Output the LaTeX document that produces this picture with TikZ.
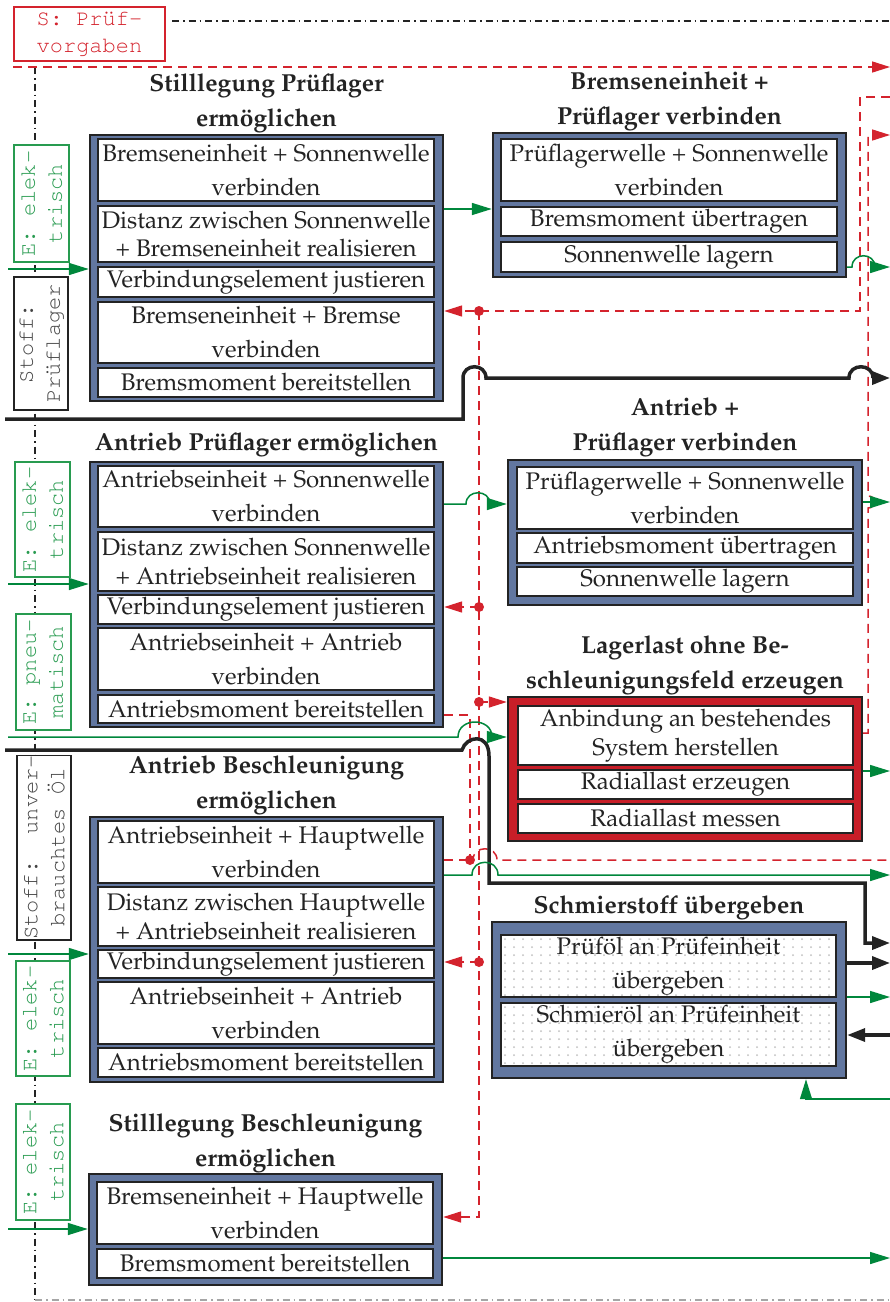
\documentclass[tikz,border=0pt]{standalone}
\usepackage[T1]{fontenc}
\IfFileExists{tgpagella.sty}{\usepackage{tgpagella}}{\usepackage{mathpazo}}
\IfFileExists{courier.sty}{\usepackage{courier}}{}
\usetikzlibrary{arrows.meta,calc}

\definecolor{panel}{RGB}{98,119,160}
\definecolor{loadred}{RGB}{200,30,40}
\definecolor{edge}{RGB}{35,35,35}
\definecolor{flowgreen}{RGB}{0,135,60}
\definecolor{labelgreen}{RGB}{40,155,80}
\definecolor{sigred}{RGB}{212,35,45}

\newcommand\cellsize{\fontsize{24}{34}\selectfont}
\newcommand\cellsizetight{\fontsize{24}{28.5}\selectfont}
\newcommand\headsize{\fontsize{24.6}{35}\selectfont\bfseries}
\newcommand\tagsize{\fontsize{22}{27}\selectfont\ttfamily}

\tikzset{
  grp/.style={draw=edge, fill=panel, line width=2.4pt, inner sep=0pt},
  redgrp/.style={grp, fill=loadred},
  cell/.style={draw=edge, fill=white, line width=1.6pt, align=center, inner sep=0pt,
    font=\cellsize, text=edge, minimum width=336pt},
  tight/.style={font=\cellsizetight},
  head/.style={font=\headsize, align=center, anchor=south, inner sep=1pt, text=edge},
  tag/.style={draw, fill=white, line width=1.2pt, rotate=90, align=center,
    inner sep=0pt, font=\tagsize},
  gtag/.style={tag, draw=labelgreen, text=labelgreen},
  ktag/.style={tag, draw=edge, text=edge!85},
  gflow/.style={draw=flowgreen, line width=1.5pt, -{Triangle[length=20pt,width=12pt]}},
  kflow/.style={draw=edge, line width=3.5pt, -{Triangle[length=18pt,width=13pt]}},
  sig/.style={draw=sigred, line width=1.5pt, dash pattern=on 9pt off 6pt},
  sigarrow/.style={sig, -{Triangle[length=18pt,width=11pt]}},
  border/.style={draw=edge, line width=1.3pt, dash pattern=on 7pt off 4pt on 1.5pt off 4pt},
  oildots/.style={path picture={
      \foreach \i in {0,...,37}{\foreach \j in {0,...,7}{
        \fill[gray!50] ($(path picture bounding box.north west)+(\i*9+4,\j*8+4)$) circle (1pt);}}}},
}

\begin{document}
\begin{tikzpicture}[x=1pt,y=-1pt]
\useasboundingbox (0,0) rectangle (890,1302);
\fill[white] (0,0) rectangle (890,1302);

% specification source and system border
\node[draw=sigred, line width=1.4pt, fill=white, minimum width=151pt, minimum height=54pt,
      inner sep=0pt, align=left, font=\tagsize, text=sigred] (spec) at (89.5,34) {S: Pr\"uf-\\vorgaben};
\coordinate (bTopR) at (890,21);
\coordinate (bTopL) at (172,21);
\coordinate (bLeftT) at (35,67);
\coordinate (bLeftB) at (35,1300);
\coordinate (bBotR) at (890,1300);
\draw[border] (bTopL) -- (bTopR);
\draw[border] (bLeftT) -- (bLeftB);
\draw[border, draw=gray!70] (bLeftB) -- (bBotR);

% flow labels along the border
\node[gtag, minimum width=117pt, minimum height=55pt] (eA) at (41.5,203.5) {E: elek-\\trisch};
\node[ktag, minimum width=133pt, minimum height=54pt] (mA) at (41,343.5) {Stoff:\\Pr\"uflager};
\node[gtag, minimum width=115pt, minimum height=55pt] (eB) at (42.5,519.5) {E: elek-\\trisch};
\node[gtag, minimum width=116pt, minimum height=55pt] (pB) at (43.5,672) {E: pneu-\\matisch};
\node[ktag, minimum width=179pt, minimum height=54pt] (mB) at (44,847.5) {Stoff: unver-\\brauchtes \"Ol};
\node[gtag, minimum width=115pt, minimum height=54pt] (eC) at (43,1018.5) {E: elek-\\trisch};
\node[gtag, minimum width=116pt, minimum height=54pt] (eD) at (43,1162) {E: elek-\\trisch};

% ---- left column ----
\node[grp, minimum width=353pt, minimum height=266pt] (A) at (266.5,268) {};
\node[head] (tA) at (266.5,134) {Stilllegung Pr\"uflager\\erm\"oglichen};
\node[cell, minimum height=62pt] (a1) at (266,170) {Bremseneinheit + Sonnenwelle\\verbinden};
\node[cell, tight, minimum height=56pt] (a2) at (266,234) {Distanz zwischen Sonnenwelle\\+ Bremseneinheit realisieren};
\node[cell, minimum height=30pt] (a3) at (266,282) {Verbindungselement justieren};
\node[cell, minimum height=61pt] (a4) at (266,332.5) {Bremseneinheit + Bremse\\verbinden};
\node[cell, minimum height=29pt] (a5) at (266,382.5) {Bremsmoment bereitstellen};

\node[grp, minimum width=353pt, minimum height=265pt] (B) at (266.5,594.5) {};
\node[head] (tB) at (266.5,457.5) {Antrieb Pr\"uflager erm\"oglichen};
\node[cell, minimum height=61pt] (b1) at (266,496.5) {Antriebseinheit + Sonnenwelle\\verbinden};
\node[cell, tight, minimum height=59pt] (b2) at (266,561.5) {Distanz zwischen Sonnenwelle\\+ Antriebseinheit realisieren};
\node[cell, minimum height=29pt] (b3) at (266,609.5) {Verbindungselement justieren};
\node[cell, minimum height=62pt] (b4) at (266,659) {Antriebseinheit + Antrieb\\verbinden};
\node[cell, minimum height=28pt] (b5) at (266,709) {Antriebsmoment bereitstellen};

\node[grp, minimum width=353pt, minimum height=265pt] (C) at (266.5,949.5) {};
\node[head] (tC) at (266.5,815.5) {Antrieb Beschleunigung\\erm\"oglichen};
\node[cell, minimum height=62pt] (c1) at (266,852) {Antriebseinheit + Hauptwelle\\verbinden};
\node[cell, tight, minimum height=59pt] (c2) at (266,916.5) {Distanz zwischen Hauptwelle\\+ Antriebseinheit realisieren};
\node[cell, minimum height=28pt] (c3) at (266,964) {Verbindungselement justieren};
\node[cell, minimum height=62pt] (c4) at (266,1013) {Antriebseinheit + Antrieb\\verbinden};
\node[cell, minimum height=29pt] (c5) at (266,1062.5) {Antriebsmoment bereitstellen};

\node[grp, minimum width=353pt, minimum height=111pt] (D) at (265.5,1229.5) {};
\node[head] (tD) at (265.5,1173.5) {Stilllegung Beschleunigung\\erm\"oglichen};
\node[cell, minimum height=62pt] (d1) at (265,1213) {Bremseneinheit + Hauptwelle\\verbinden};
\node[cell, minimum height=29pt] (d2) at (265,1263.5) {Bremsmoment bereitstellen};

% ---- right column ----
\node[grp, minimum width=353pt, minimum height=144pt] (E) at (669.5,205) {};
\node[head] (tE) at (669.5,131.5) {Bremseneinheit +\\Pr\"uflager verbinden};
\node[cell, minimum height=62pt] (e1) at (669,170) {Pr\"uflagerwelle + Sonnenwelle\\verbinden};
\node[cell, minimum height=29pt] (e2) at (669,221.5) {Bremsmoment \"ubertragen};
\node[cell, minimum height=30pt] (e3) at (669,257) {Sonnenwelle lagern};

\node[grp, minimum width=354pt, minimum height=145pt] (F) at (685,532.5) {};
\node[head] (tF) at (685,457.5) {Antrieb +\\Pr\"uflager verbinden};
\node[cell, minimum height=62pt] (f1) at (685,498) {Pr\"uflagerwelle + Sonnenwelle\\verbinden};
\node[cell, minimum height=30pt] (f2) at (685,548) {Antriebsmoment \"ubertragen};
\node[cell, minimum height=29pt] (f3) at (685,581.5) {Sonnenwelle lagern};

\node[redgrp, minimum width=354pt, minimum height=144pt] (G) at (685,769) {};
\node[head] (tG) at (685,695.5) {Lagerlast ohne Be-\\schleunigungsfeld erzeugen};
\node[cell, tight, minimum width=335pt, minimum height=59pt] (g1) at (685.5,735.5) {Anbindung an bestehendes\\System herstellen};
\node[cell, minimum width=335pt, minimum height=29pt] (g2) at (685.5,784.5) {Radiallast erzeugen};
\node[cell, minimum width=335pt, minimum height=29pt] (g3) at (685.5,818.5) {Radiallast messen};

\node[grp, minimum width=354pt, minimum height=156pt] (H) at (669,1000) {};
\node[head] (tH) at (669,920.5) {Schmierstoff \"ubergeben};
\node[cell, oildots, minimum width=335pt, minimum height=62pt] (h1) at (668.5,966) {Pr\"uf\"ol an Pr\"ufeinheit\\\"ubergeben};
\node[cell, oildots, minimum width=335pt, minimum height=63pt] (h2) at (668.5,1034.5) {Schmier\"ol an Pr\"ufeinheit\\\"ubergeben};

% ---- free ends at the border ----
\coordinate (specOut) at (890,67);
\coordinate (sigIn) at (890,97);
\coordinate (sigOut) at (890,135);
\coordinate (sigOutB) at (890,860);
\coordinate (jA) at (479,311);
\coordinate (jB) at (479,607);
\coordinate (jC) at (479,702);
\coordinate (jD) at (479,962);
\coordinate (jEnd) at (479,1217);
\coordinate (jE) at (470,860);
\coordinate (inA) at (8,269);
\coordinate (inB) at (8,584);
\coordinate (inG) at (8,737);
\coordinate (inC) at (8,954);
\coordinate (inD) at (8,1229);
\coordinate (outE) at (890,267);
\coordinate (outF) at (890,502);
\coordinate (outG) at (890,771);
\coordinate (outC) at (890,875);
\coordinate (outH) at (890,997);
\coordinate (inH) at (890,1099);
\coordinate (outD) at (890,1258);
\coordinate (matA) at (5,419);
\coordinate (matAout) at (890,378);
\coordinate (matB) at (5,750);
\coordinate (matBout) at (890,943);
\coordinate (oilOut) at (890,963);
\coordinate (oilIn) at (890,1035);

% ---- signals ----
\draw[sigarrow] (spec.west |- specOut) -- (specOut);
\draw[sigarrow] (sigIn) -- (860,97) -- (860,311) -- (A.east |- jA);
\draw[sigarrow] (jA) -- (jEnd) -- (D.east |- jEnd);
\draw[sigarrow] (jB) -- (B.east |- jB);
\draw[sigarrow] (jC) -- (G.west |- jC);
\draw[sigarrow] (jD) -- (C.east |- jD);
\draw[sigarrow] (G.east |- 0,733) -- (868,733) -- (868,508)
   .. controls (877,508) and (877,496) .. (868,496) -- (868,135) -- (sigOut);
\draw[sig] (B.east |- 0,715) -- (470,715) -- (jE);
\draw[sig] (C.east |- jE) -- (jE);
\draw[sig] (jE) -- (473,860) .. controls (473,845) and (497,845) .. (497,860) -- (sigOutB);
\foreach \p in {jA,jB,jC,jD,jE} \fill[sigred] (\p) circle (5pt);

% ---- material flows ----
\draw[kflow] (matA) -- (463,419) -- (463,378) .. controls (463,363) and (486,363) .. (486,378)
   -- (849,378) .. controls (849,363) and (873,363) .. (873,378) -- (matAout);
\draw[kflow] (matB) -- (462,750) .. controls (466,736) and (489,732) .. (489,756)
   -- (489,883) -- (865,883) -- (865,943) -- (matBout);
\draw[kflow] (H.east |- oilOut) -- (oilOut);
\draw[kflow] (oilIn) -- (H.east |- oilIn);

% ---- energy flows ----
\draw[gflow] (inA) -- (A.west |- inA);
\draw[gflow] (A.east |- 0,209) -- (E.west |- 0,209);
\draw[gflow] (E.east |- outE) -- (852,267) .. controls (852,252) and (875,252) .. (875,267) -- (outE);
\draw[gflow] (inB) -- (B.west |- inB);
\draw[gflow] (B.east |- 0,504) -- (466,504) .. controls (466,489) and (490,489) .. (490,504) -- (F.west |- 0,504);
\draw[gflow] (F.east |- outF) -- (outF);
\draw[gflow] (inG) -- (458,737) .. controls (458,717) and (492,717) .. (492,737) -- (G.west |- inG);
\draw[gflow] (G.east |- outG) -- (outG);
\draw[gflow] (C.east |- outC) -- (472,875) .. controls (472,858) and (498,858) .. (498,875) -- (outC);
\draw[gflow] (inC) -- (C.west |- inC);
\draw[gflow] (H.east |- outH) -- (outH);
\draw[gflow] (inH) -- (806,1099) -- (H.south -| 806,0);
\draw[gflow] (inD) -- (D.west |- inD);
\draw[gflow] (D.east |- outD) -- (outD);
\end{tikzpicture}
\end{document}
